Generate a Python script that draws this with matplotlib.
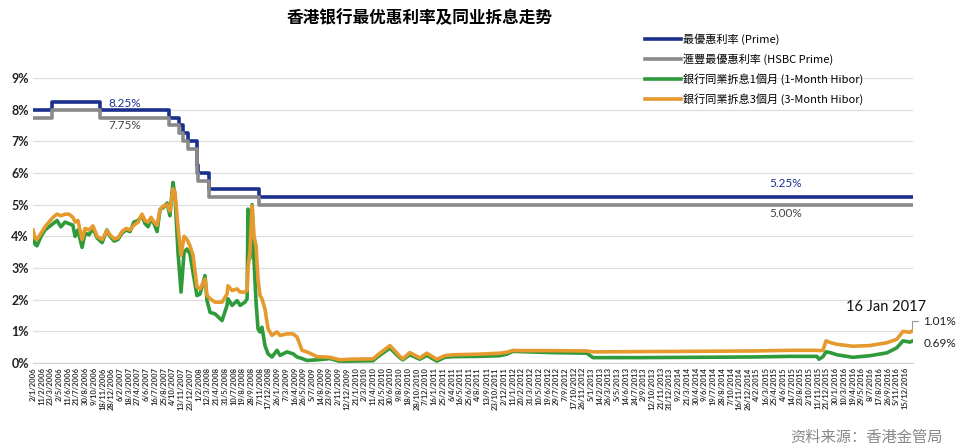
import matplotlib
matplotlib.use('Agg')
import matplotlib.pyplot as plt
import matplotlib.dates as mdates
import pandas as pd

plt.rcParams['font.family'] = ['Noto Sans CJK TC', 'DejaVu Sans']

# prime rates (step changes)
prime_dates = ['2006-01-02', '2006-03-29', '2006-11-05', '2007-09-19', '2007-11-01',
               '2007-11-20', '2007-12-12', '2008-01-22', '2008-01-31', '2008-03-19',
               '2008-11-05', '2017-01-16']
prime_rate = [8.00, 8.25, 8.00, 7.75, 7.50, 7.25, 7.00, 6.25, 6.00, 5.50, 5.25, 5.25]
hsbc_prime_rate = [7.75, 8.00, 7.75, 7.50, 7.25, 7.00, 6.75, 6.00, 5.75, 5.25, 5.00, 5.00]

# hibor
hibor_dates = [
    '2006-01-02', '2006-01-11', '2006-01-20', '2006-02-08', '2006-02-26', '2006-03-16',
    '2006-04-04', '2006-04-22', '2006-05-10', '2006-05-29', '2006-06-16', '2006-07-04',
    '2006-07-14', '2006-07-27', '2006-08-15', '2006-08-29', '2006-09-16', '2006-10-04',
    '2006-10-23', '2006-11-15', '2006-12-07', '2006-12-21', '2007-01-09', '2007-01-27',
    '2007-02-14', '2007-03-05', '2007-03-23', '2007-04-10', '2007-04-29', '2007-05-17',
    '2007-05-31', '2007-06-14', '2007-06-27', '2007-07-11', '2007-07-25', '2007-08-08',
    '2007-08-21', '2007-09-09', '2007-09-22', '2007-10-06', '2007-10-15', '2007-10-29',
    '2007-11-12', '2007-11-26', '2007-12-09', '2007-12-23', '2008-01-06', '2008-01-24',
    '2008-02-07', '2008-03-01', '2008-03-10', '2008-03-24', '2008-04-16', '2008-05-18',
    '2008-06-10', '2008-06-14', '2008-07-03', '2008-07-26', '2008-08-09', '2008-08-31',
    '2008-09-10', '2008-09-14', '2008-09-23', '2008-10-03', '2008-10-12', '2008-10-21',
    '2008-10-30', '2008-11-08', '2008-11-17', '2008-12-01', '2008-12-15', '2009-01-02',
    '2009-01-25', '2009-02-08', '2009-03-12', '2009-04-09', '2009-04-27', '2009-05-20',
    '2009-06-12', '2009-07-28', '2009-09-25', '2009-11-10', '2009-12-26', '2010-04-10',
    '2010-05-03', '2010-06-27', '2010-08-11', '2010-08-25', '2010-09-26', '2010-11-11',
    '2010-12-13', '2011-01-28', '2011-03-06', '2011-04-12', '2011-08-13', '2011-11-13',
    '2011-12-15', '2012-01-12', '2012-02-13', '2012-06-30', '2012-12-16', '2013-01-13',
    '2013-08-16', '2014-05-19', '2015-01-17', '2015-07-05', '2015-11-06', '2015-11-16',
    '2015-12-04', '2015-12-18', '2016-01-05', '2016-02-06', '2016-04-19', '2016-07-06',
    '2016-09-22', '2016-11-07', '2016-12-05', '2017-01-06', '2017-01-16']
hibor_1m = [
    4.10, 3.75, 3.70, 4.00, 4.20, 4.30, 4.40, 4.50, 4.30, 4.45, 4.40, 4.35,
    4.00, 4.20, 3.65, 4.10, 4.05, 4.25, 3.95, 3.80, 4.20, 4.00, 3.85, 3.90,
    4.10, 4.20, 4.15, 4.45, 4.50, 4.65, 4.40, 4.30, 4.55, 4.40, 4.15, 4.85,
    4.90, 5.05, 4.65, 5.70, 5.30, 3.50, 2.24, 3.50, 3.60, 3.44, 2.86, 2.13,
    2.18, 2.76, 1.97, 1.60, 1.55, 1.34, 1.82, 2.03, 1.82, 1.97, 1.82, 1.92,
    2.03, 4.86, 3.30, 5.00, 3.18, 1.92, 1.08, 0.98, 1.13, 0.55, 0.29, 0.19,
    0.40, 0.24, 0.35, 0.29, 0.19, 0.14, 0.08, 0.10, 0.14, 0.05, 0.06, 0.07,
    0.20, 0.47, 0.17, 0.10, 0.26, 0.12, 0.24, 0.06, 0.18, 0.20, 0.21, 0.23,
    0.28, 0.37, 0.36, 0.33, 0.31, 0.17, 0.17, 0.18, 0.19, 0.21, 0.21, 0.12,
    0.20, 0.35, 0.33, 0.26, 0.18, 0.23, 0.32, 0.48, 0.70, 0.66, 0.69]
hibor_3m = [
    4.20, 3.95, 3.90, 4.10, 4.30, 4.45, 4.60, 4.70, 4.65, 4.70, 4.70, 4.60,
    4.45, 4.50, 3.90, 4.25, 4.20, 4.33, 4.00, 3.90, 4.18, 4.05, 3.92, 3.95,
    4.15, 4.25, 4.20, 4.35, 4.45, 4.70, 4.50, 4.45, 4.60, 4.45, 4.35, 4.85,
    4.95, 5.00, 4.80, 5.50, 5.40, 4.30, 3.40, 4.00, 3.90, 3.70, 3.40, 2.40,
    2.34, 2.65, 2.13, 2.03, 1.92, 1.92, 2.18, 2.44, 2.29, 2.34, 2.24, 2.24,
    2.30, 3.00, 3.50, 4.96, 4.00, 3.70, 2.65, 2.13, 2.03, 1.70, 1.08, 0.87,
    0.98, 0.87, 0.92, 0.92, 0.82, 0.40, 0.35, 0.20, 0.18, 0.10, 0.12, 0.13,
    0.26, 0.55, 0.22, 0.13, 0.33, 0.16, 0.31, 0.12, 0.23, 0.26, 0.28, 0.31,
    0.34, 0.40, 0.39, 0.39, 0.38, 0.35, 0.36, 0.37, 0.38, 0.40, 0.40, 0.39,
    0.40, 0.70, 0.65, 0.59, 0.53, 0.55, 0.64, 0.75, 1.00, 0.97, 1.01]

legend_labels = ['最優惠利率 (Prime)', '滙豐最優惠利率 (HSBC Prime)',
                 '銀行同業拆息1個月 (1-Month Hibor)', '銀行同業拆息3個月 (3-Month Hibor)']
y_ticks = [0, 1, 2, 3, 4, 5, 6, 7, 8, 9]

prime_dates = pd.to_datetime(prime_dates)
hibor_dates = pd.to_datetime(hibor_dates)
tick_dates = pd.date_range('2006-01-02', '2016-12-15', freq='40D')

fig = plt.figure(figsize=(9.58, 4.48), dpi=100)
ax = fig.add_axes([33 / 958, 85 / 448, 880 / 958, 285 / 448])

ax.step(prime_dates, prime_rate, where='post', color='#1b2f8c', lw=2.6, label=legend_labels[0])
ax.step(prime_dates, hsbc_prime_rate, where='post', color='#8a8a8a', lw=2.6, label=legend_labels[1])
ax.plot(hibor_dates, hibor_1m, color='#2e9a3a', lw=2.6, label=legend_labels[2])
ax.plot(hibor_dates, hibor_3m, color='#e69a2e', lw=2.6, label=legend_labels[3])

ax.set_xlim(pd.Timestamp('2006-01-02'), pd.Timestamp('2017-01-20'))
ax.set_ylim(0, 9)
ax.set_yticks(y_ticks)
ax.set_yticklabels([f'{v}%' for v in y_ticks], fontsize=9, fontweight='bold',
                   family=['Lato', 'DejaVu Sans'], color='#222222')
ax.set_xticks(tick_dates)
ax.set_xticklabels([f'{d.day}/{d.month}/{d.year}' for d in tick_dates], rotation=90,
                   fontsize=5.5, family=['Lato', 'DejaVu Sans'], fontweight='bold', color='#333333')
ax.tick_params(axis='both', length=0, pad=3)
ax.grid(axis='y', color='#dddddd', lw=0.9)
ax.set_axisbelow(True)
for s in ['top', 'right', 'left']:
    ax.spines[s].set_visible(False)
ax.spines['bottom'].set_color('#d0d0d0')

# annotations
ax.text(pd.Timestamp('2007-02-28'), 8.2, '8.25%', color='#1b2f8c', fontsize=8.5,
        ha='center', va='center', family=['Lato', 'DejaVu Sans'])
ax.text(pd.Timestamp('2007-02-28'), 7.5, '7.75%', color='#444444', fontsize=8.5,
        ha='center', va='center', family=['Lato', 'DejaVu Sans'])
ax.text(pd.Timestamp('2015-06-17'), 5.68, '5.25%', color='#1b2f8c', fontsize=8.5,
        ha='center', va='center', family=['Lato', 'DejaVu Sans'])
ax.text(pd.Timestamp('2015-06-17'), 4.73, '5.00%', color='#444444', fontsize=8.5,
        ha='center', va='center', family=['Lato', 'DejaVu Sans'])
ax.text(pd.Timestamp('2016-09-18'), 1.77, '16 Jan 2017', color='#111111', fontsize=10.5,
        ha='center', va='center', family=['Lato', 'DejaVu Sans'], clip_on=False)
ax.annotate('1.01%', xy=(hibor_dates[-1], hibor_3m[-1]), xytext=(8, 7), textcoords='offset points',
            fontsize=8.5, va='center', family=['Lato', 'DejaVu Sans'], color='#222222',
            arrowprops=dict(arrowstyle='-', color='#999999', lw=0.8,
                            connectionstyle='angle,angleA=0,angleB=90,rad=0'))
ax.annotate('0.69%', xy=(hibor_dates[-1], hibor_1m[-1]), xytext=(8, -2), textcoords='offset points',
            fontsize=8.5, va='center', family=['Lato', 'DejaVu Sans'], color='#222222')

fig.legend(loc='upper left', bbox_to_anchor=(645 / 958, 1 - 33 / 448), frameon=False,
           fontsize=8, handlelength=3.2, handletextpad=0.2, labelspacing=0.75,
           borderaxespad=0, borderpad=0)

fig.text(420 / 958, 1 - 18 / 448, '香港银行最优惠利率及同业拆息走势', ha='center', va='center',
         fontsize=12, fontweight='bold', family=['Noto Sans CJK SC', 'DejaVu Sans'])
fig.text(943 / 958, 1 - 437 / 448, '资料来源：香港金管局', ha='right', va='center',
         fontsize=11, color='#888888', family=['Noto Sans CJK SC', 'DejaVu Sans'])

fig.savefig('out.png', dpi=100)
